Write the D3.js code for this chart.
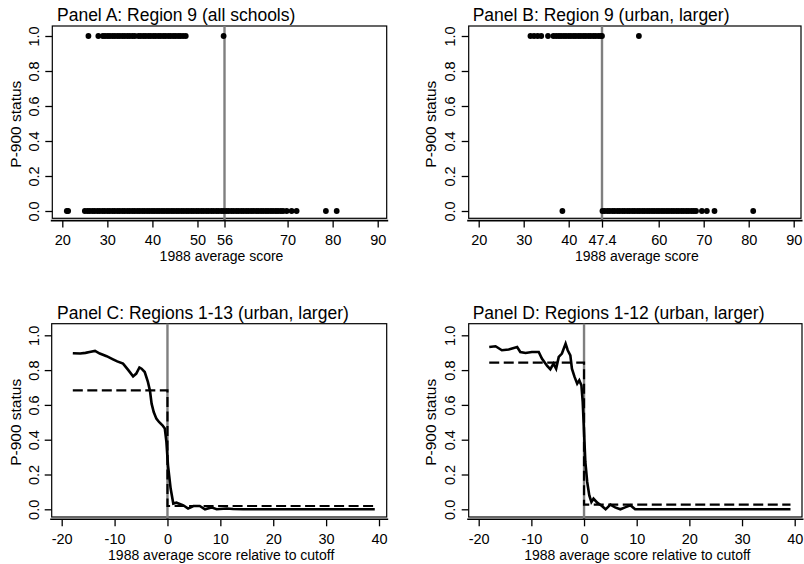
<!DOCTYPE html>
<html>
<head>
<meta charset="utf-8">
<script src="https://cdn.jsdelivr.net/npm/d3@7"></script>
<style>
  body { margin: 0; background: #fff; }
  svg { display: block; }
</style>
</head>
<body>
<div class="chart"></div>
<script>
//////////////// DATA ////////////////

// Panel A: Region 9, all schools (1988 score, P-900 = 1 / 0)
var aTreated = [25.8, 28.0, 29.0, 29.5, 30.1, 30.6, 31.2, 31.7, 32.3, 32.8, 33.4, 33.9, 34.5, 35.0,
  35.6, 36.1, 36.9, 37.4, 38.0, 38.5, 39.1, 39.6, 40.2, 40.7, 41.3, 41.8, 42.4, 42.9, 43.5, 44.0,
  44.6, 45.1, 45.7, 46.2, 46.8, 47.4, 55.8];
var aControl = [21.0, 21.3, 25.0, 25.6, 26.1, 26.7, 27.2, 27.8, 28.3, 28.9, 29.4, 30.0, 30.5, 31.1,
  31.6, 32.2, 32.7, 33.3, 33.8, 34.4, 34.9, 35.5, 36.0, 36.6, 37.1, 37.7, 38.2, 38.8, 39.3, 39.9,
  40.4, 41.0, 41.5, 42.1, 42.6, 43.2, 43.7, 44.3, 44.8, 45.4, 45.9, 46.5, 47.0, 47.6, 48.1, 48.7,
  49.2, 49.8, 50.3, 50.9, 51.4, 52.0, 52.5, 53.1, 53.6, 54.2, 54.7, 55.3, 55.8, 56.4, 56.9, 57.5,
  58.0, 58.6, 59.1, 59.7, 60.2, 60.8, 61.3, 61.9, 62.4, 63.0, 63.5, 64.1, 64.6, 65.2, 65.7, 66.3,
  66.8, 67.4, 67.9, 68.5, 69.0, 69.8, 70.9, 72.0, 78.5, 80.9];

// Panel B: Region 9, urban and larger schools
var bTreated = [31.5, 32.3, 33.1, 33.9, 35.4, 36.6, 37.2, 37.8, 38.3, 38.9, 39.4, 40.0, 40.5, 41.1,
  41.6, 42.2, 42.7, 43.3, 43.8, 44.4, 44.9, 45.5, 46.0, 46.6, 47.1, 47.4, 55.6];
var bControl = [38.6, 47.5, 48.0, 48.6, 49.1, 49.7, 50.2, 50.8, 51.3, 51.9, 52.4, 53.0, 53.5, 54.1,
  54.6, 55.2, 55.7, 56.3, 56.8, 57.4, 57.9, 58.5, 59.0, 59.6, 60.1, 60.7, 61.2, 61.8, 62.3, 62.9,
  63.4, 64.0, 64.5, 65.1, 65.6, 66.2, 66.7, 67.3, 67.8, 68.3, 69.6, 70.7, 72.4, 81.0];

// Panel C: Regions 1-13, score relative to cutoff
var cSmoothX = [-17.9, -16.5, -15.5, -14.5, -13.7, -12.8, -11.5, -10.3, -9.5, -8.4, -7.4, -6.5, -5.9,
  -5.3, -4.9, -4.3, -3.7, -3.3, -3.0, -2.6, -2.1, -1.6, -0.95, -0.5, -0.2, 0.1, 0.6, 1.1, 1.7, 3.0,
  3.9, 4.9, 6.1, 7.1, 8.3, 9.3, 11.2, 12.4, 14.3, 39.2];
var cSmoothY = [0.897, 0.895, 0.899, 0.905, 0.910, 0.895, 0.880, 0.862, 0.850, 0.837, 0.800, 0.764,
  0.780, 0.815, 0.808, 0.789, 0.732, 0.680, 0.607, 0.559, 0.521, 0.502, 0.483, 0.464, 0.387, 0.253,
  0.119, 0.033, 0.038, 0.023, 0.004, 0.019, 0.019, 0.000, 0.011, 0.000, 0.005, 0.002, 0.000, 0.000];
var cStepX = [-17.9, 0, 0, 39.2];
var cStepY = [0.684, 0.684, 0.019, 0.019];

// Panel D: Regions 1-12
var dSmoothX = [-18.0, -16.8, -15.6, -14.3, -12.7, -12.1, -11.1, -9.9, -8.6, -8.0, -7.0, -6.4, -5.8,
  -5.3, -4.8, -4.2, -3.5, -3.1, -2.6, -2.3, -1.8, -1.3, -0.9, -0.5, -0.25, 0, 0.25, 0.6, 1.0, 1.4,
  1.8, 2.5, 3.4, 4.1, 5.0, 5.9, 6.9, 7.8, 8.8, 9.7, 39.2];
var dSmoothY = [0.933, 0.937, 0.914, 0.918, 0.933, 0.904, 0.898, 0.904, 0.904, 0.866, 0.824, 0.805,
  0.837, 0.808, 0.876, 0.895, 0.952, 0.914, 0.885, 0.808, 0.761, 0.722, 0.741, 0.713, 0.617, 0.444,
  0.272, 0.157, 0.080, 0.042, 0.061, 0.038, 0.019, 0.000, 0.027, 0.011, 0.000, 0.011, 0.023, 0.000,
  0.000];
var dStepX = [-18.0, 0, 0, 39.2];
var dStepY = [0.843, 0.843, 0.027, 0.027];

// Tick values
var xTicksA = [20, 30, 40, 50, 56, 70, 80, 90];
var xTicksB = [20, 30, 40, 47.4, 60, 70, 80, 90];
var xTicksCD = [-20, -10, 0, 10, 20, 30, 40];
var yTicks = [0, 0.2, 0.4, 0.6, 0.8, 1.0];

//////////////// CHART AREA ////////////////

var fontFamily = "'Liberation Sans', Arial, sans-serif";

var svg = d3.select(".chart")
  .append("svg")
  .attr("width", 804)
  .attr("height", 564);

// layout of the four panels (pixels)
var panels = [
  { title: "Panel A: Region 9 (all schools)", left: 52.3, right: 386.7, top: 26, bottom: 218.3,
    xDomain: [20, 90], xRange: [62.3, 377.7], yRange: [211, 36], xTicks: xTicksA, cutoff: 56,
    xTitle: "1988 average score", titleX: 57, titleY: 21, yLab: 39, yTitle: 21, xLab: 245, xTitleY: 261,
    points: [{ xs: aTreated, v: 1 }, { xs: aControl, v: 0 }] },
  { title: "Panel B: Region 9 (urban, larger)", left: 468.7, right: 801, top: 26, bottom: 218.3,
    xDomain: [20, 90], xRange: [478.7, 793.7], yRange: [211, 36], xTicks: xTicksB, cutoff: 47.4,
    xTitle: "1988 average score", titleX: 472.7, titleY: 21, yLab: 454.5, yTitle: 436, xLab: 245, xTitleY: 261,
    points: [{ xs: bTreated, v: 1 }, { xs: bControl, v: 0 }] },
  { title: "Panel C: Regions 1-13 (urban, larger)", left: 51.7, right: 386.7, top: 323.7, bottom: 517,
    xDomain: [-20, 40], xRange: [61.7, 379], yRange: [509.3, 335.3], xTicks: xTicksCD, cutoff: 0,
    xTitle: "1988 average score relative to cutoff", titleX: 57, titleY: 319.3, yLab: 39, yTitle: 20.5,
    xLab: 544, xTitleY: 560,
    lines: [{ xs: cSmoothX, ys: cSmoothY, dash: null }, { xs: cStepX, ys: cStepY, dash: "10,4.5" }] },
  { title: "Panel D: Regions 1-12 (urban, larger)", left: 468.7, right: 802, top: 323.7, bottom: 517,
    xDomain: [-20, 40], xRange: [478.7, 794.7], yRange: [509.3, 335.3], xTicks: xTicksCD, cutoff: 0,
    xTitle: "1988 average score relative to cutoff", titleX: 472.7, titleY: 319.3, yLab: 454.5, yTitle: 436,
    xLab: 544, xTitleY: 560,
    lines: [{ xs: dSmoothX, ys: dSmoothY, dash: null }, { xs: dStepX, ys: dStepY, dash: "10,4.5" }] }
];

//////////////// DRAW ////////////////

panels.forEach(function(p) {
  var g = svg.append("g");
  var x = d3.scaleLinear().domain(p.xDomain).range(p.xRange);
  var y = d3.scaleLinear().domain([0, 1]).range(p.yRange);
  var axisY = p.bottom + 2.3;

  // plot frame
  g.append("rect")
    .attr("x", p.left)
    .attr("y", p.top)
    .attr("width", p.right - p.left)
    .attr("height", p.bottom - p.top)
    .attr("fill", "none")
    .attr("stroke", "#000")
    .attr("stroke-width", 1.2);

  // cutoff line
  g.append("line")
    .attr("x1", x(p.cutoff)).attr("x2", x(p.cutoff))
    .attr("y1", p.top).attr("y2", axisY)
    .attr("stroke", "#7f7f7f")
    .attr("stroke-width", 2.4);

  // x axis
  var xg = g.append("g")
    .attr("transform", `translate(0, ${axisY})`)
    .call(d3.axisBottom(x).tickValues(p.xTicks).tickSize(7).tickFormat(d => String(d)));
  xg.select(".domain").remove();
  xg.append("line")
    .attr("x1", p.left - 1.5).attr("x2", p.right + 1.5)
    .attr("stroke", "#000").attr("stroke-width", 1.6);
  xg.selectAll(".tick line").attr("stroke-width", 1.3);
  xg.selectAll("text")
    .attr("y", p.xLab - axisY)
    .attr("dy", 0);

  // y axis
  var yg = g.append("g")
    .attr("transform", `translate(${p.left}, 0)`)
    .call(d3.axisLeft(y).tickValues(yTicks).tickSize(7).tickFormat(d3.format(".1f")));
  yg.select(".domain").remove();
  yg.selectAll(".tick line").attr("stroke-width", 1.3);
  yg.selectAll("text")
    .attr("x", 0)
    .attr("dy", 0)
    .attr("text-anchor", "middle")
    .attr("transform", `translate(${p.yLab - p.left}, 0) rotate(-90)`);

  [xg, yg].forEach(function(a) {
    a.attr("font-family", fontFamily).attr("font-size", 14.5).attr("color", "#000");
  });

  // scatter points
  (p.points || []).forEach(function(s) {
    g.selectAll(null)
      .data(s.xs)
      .enter()
      .append("circle")
      .attr("cx", d => x(d))
      .attr("cy", y(s.v))
      .attr("r", 2.9)
      .attr("fill", "#000");
  });

  // smoothed / step lines
  (p.lines || []).forEach(function(s) {
    var pts = s.xs.map((v, i) => [v, s.ys[i]]);
    g.append("path")
      .datum(pts)
      .attr("d", d3.line().x(d => x(d[0])).y(d => y(d[1])))
      .attr("fill", "none")
      .attr("stroke", "#000")
      .attr("stroke-width", s.dash ? 2.2 : 2.6)
      .attr("stroke-dasharray", s.dash);
  });

  // titles
  g.append("text")
    .attr("x", p.titleX)
    .attr("y", p.titleY)
    .attr("font-family", fontFamily)
    .attr("font-size", 17.5)
    .text(p.title);

  g.append("text")
    .attr("x", (p.left + p.right) / 2 + 2)
    .attr("y", p.xTitleY)
    .attr("text-anchor", "middle")
    .attr("font-family", fontFamily)
    .attr("font-size", 14)
    .text(p.xTitle);

  g.append("text")
    .attr("transform", `translate(${p.yTitle}, ${(p.top + p.bottom) / 2 + 2}) rotate(-90)`)
    .attr("text-anchor", "middle")
    .attr("font-family", fontFamily)
    .attr("font-size", 15.5)
    .text("P-900 status");
});
</script>
</body>
</html>
